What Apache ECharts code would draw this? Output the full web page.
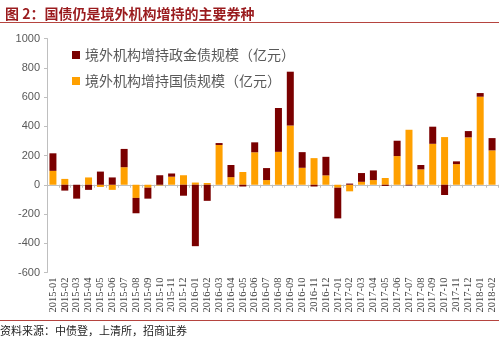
<!DOCTYPE html>
<html>
<head>
<meta charset="utf-8">
<script src="https://cdn.jsdelivr.net/npm/echarts@6/dist/echarts.min.js"></script>
<style>
html,body{margin:0;padding:0;background:#fff;}
#chart{width:499px;height:342px;}
</style>
</head>
<body>
<div id="chart"></div>
<script>
var categories = ['2015-01','2015-02','2015-03','2015-04','2015-05','2015-06','2015-07','2015-08','2015-09','2015-10','2015-11','2015-12',
  '2016-01','2016-02','2016-03','2016-04','2016-05','2016-06','2016-07','2016-08','2016-09','2016-10','2016-11','2016-12',
  '2017-01','2017-02','2017-03','2017-04','2017-05','2017-06','2017-07','2017-08','2017-09','2017-10','2017-11','2017-12',
  '2018-01','2018-02'];
var govBond = [95, 40, 0, 50, -15, -35, 120, -90, -20, -5, 55, 65,
  15, 12, 272, 52, 87, 222, 32, 225, 405, 116, 182, 64,
  -20, -45, 20, 32, 46, 196, 376, 105, 280, 326, 141, 324,
  602, 235];
var policyBond = [120, -40, -95, -35, 90, 50, 125, -105, -75, 65, 22, -75,
  -420, -110, 13, 83, -12, 68, 82, 300, 368, 107, -12, 127,
  -210, 8, 60, 66, -8, 105, -5, 30, 117, -70, 19, 43,
  25, 84];
var yTicks = {min: -600, max: 1000, interval: 200};
var names = {policy: '境外机构增持政金债规模（亿元）', gov: '境外机构增持国债规模（亿元）'};

var chart = echarts.init(document.getElementById('chart'));
chart.setOption({
  animation: false,
  title: {
    text: '图 2：国债仍是境外机构增持的主要券种',
    left: 0, top: 2,
    textStyle: {color: '#9A1B1E', fontSize: 14, fontWeight: 'bold', fontFamily: 'Noto Sans CJK SC'}
  },
  graphic: [
    {type: 'line', shape: {x1: 0, y1: 22.5, x2: 499, y2: 22.5}, style: {stroke: '#B5443F', lineWidth: 1}},
    {type: 'line', shape: {x1: 0, y1: 320.5, x2: 499, y2: 320.5}, style: {stroke: '#B5443F', lineWidth: 1}},
    {type: 'text', left: 0, top: 325, style: {text: '资料来源：中债登，上清所，招商证券', fontSize: 11, fill: '#222', fontFamily: 'Noto Sans CJK SC'}}
  ],
  legend: {
    orient: 'vertical', left: 67, top: 43, itemGap: 12,
    itemWidth: 8, itemHeight: 8, icon: 'rect',
    data: [names.policy, names.gov],
    textStyle: {fontSize: 14, color: '#595959', fontFamily: 'Noto Sans CJK SC'}
  },
  grid: {left: 47, right: 1, top: 38.5, bottom: 69.5, containLabel: false},
  xAxis: [
    {
      type: 'category', data: categories, position: 'bottom',
      axisLine: {show: false, onZero: false}, axisTick: {show: false},
      axisLabel: {rotate: 90, interval: 0, fontSize: 10.5, color: '#404040', fontFamily: '"Liberation Serif", "Times New Roman", serif', margin: 5}
    },
    {
      type: 'category', data: categories, position: 'bottom',
      axisLine: {show: true, onZero: true, lineStyle: {color: '#BFBFBF', width: 1}},
      axisTick: {show: true, length: 3, interval: 0, lineStyle: {color: '#BFBFBF'}},
      axisLabel: {show: false}
    }
  ],
  yAxis: {
    type: 'value', min: yTicks.min, max: yTicks.max, interval: yTicks.interval,
    splitLine: {show: false},
    axisLine: {show: true, lineStyle: {color: '#BFBFBF'}},
    axisTick: {show: true, length: 3, lineStyle: {color: '#BFBFBF'}},
    axisLabel: {fontSize: 11, color: '#595959', fontFamily: 'Liberation Sans', margin: 7,
      formatter: function (v) { return String(v); }}
  },
  series: [
    {name: names.gov, type: 'bar', stack: 'total', xAxisIndex: 0, data: govBond, barWidth: 7,
     itemStyle: {color: '#FFA000'}},
    {name: names.policy, type: 'bar', stack: 'total', xAxisIndex: 0, data: policyBond, barWidth: 7,
     itemStyle: {color: '#7A0000'}}
  ]
});
</script>
</body>
</html>
